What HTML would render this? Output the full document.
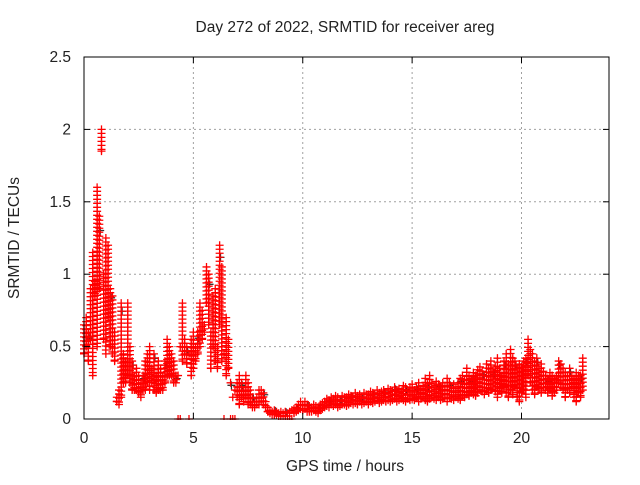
<!DOCTYPE html>
<html><head><meta charset="utf-8"><style>
body{margin:0;background:#fff}
svg text{font-family:"Liberation Sans",sans-serif;font-size:15.5px;fill:#222}
</style></head><body>
<svg id="chart" width="640" height="480" viewBox="0 0 640 480">
<rect width="640" height="480" fill="#fff"/>
<text x="345" y="32" text-anchor="middle">Day 272 of 2022, SRMTID for receiver areg</text>
<text x="345" y="471" text-anchor="middle">GPS time / hours</text>
<text transform="translate(19,238) rotate(-90)" text-anchor="middle">SRMTID / TECUs</text>
<g id="grid"></g><g id="marks"></g><g id="axes"></g>
</svg>
<script>
const xTicks=[0,5,10,15,20];
const yTicks=[0,0.5,1,1.5,2,2.5];
const yTickLabels=["0","0.5","1","1.5","2","2.5"];
const sampleStep=0.1;
const srmtidHigh=[0.45,0.7,0.6,0.9,1.15,0.95,1.6,1.4,2.0,1.0,
1.25,1.2,0.9,0.85,0.6,0.15,0.2,0.8,0.45,0.4,
0.8,0.5,0.4,0.3,0.35,0.3,0.25,0.3,0.4,0.45,
0.5,0.35,0.45,0.3,0.4,0.35,0.3,0.4,0.55,0.5,
0.45,0.4,0.3,0.3,0.5,0.8,0.55,0.5,0.45,0.55,
0.6,0.5,0.6,0.8,0.75,0.65,1.05,1.0,0.6,0.85,
0.9,0.5,1.2,1.05,0.45,0.7,0.55,0.25,0.15,0.2,
0.25,0.3,0.25,0.2,0.3,0.25,0.2,0.15,0.12,0.15,
0.2,0.2,0.18,0.12,0.08,0.06,0.05,0.06,0.05,0.04,
0.05,0.04,0.05,0.04,0.05,0.06,0.07,0.08,0.1,0.12,
0.1,0.12,0.1,0.09,0.08,0.1,0.09,0.08,0.1,0.11,
0.12,0.14,0.13,0.15,0.14,0.16,0.15,0.13,0.16,0.15,
0.15,0.17,0.16,0.15,0.18,0.16,0.17,0.15,0.18,0.17,
0.17,0.19,0.18,0.17,0.2,0.18,0.19,0.2,0.18,0.21,
0.2,0.19,0.22,0.2,0.21,0.19,0.23,0.22,0.2,0.22,
0.24,0.2,0.22,0.25,0.21,0.23,0.28,0.24,0.3,0.25,
0.22,0.26,0.24,0.22,0.25,0.23,0.28,0.25,0.22,0.24,
0.21,0.25,0.28,0.3,0.27,0.35,0.3,0.28,0.32,0.3,
0.34,0.36,0.33,0.3,0.38,0.35,0.4,0.33,0.36,0.42,
0.35,0.3,0.4,0.45,0.38,0.48,0.42,0.4,0.35,0.38,
0.36,0.4,0.42,0.55,0.48,0.45,0.4,0.42,0.35,0.38,
0.33,0.3,0.28,0.32,0.3,0.28,0.3,0.4,0.38,0.35,
0.32,0.3,0.35,0.3,0.28,0.32,0.3,0.3,0.42];
const srmtidLow=[0.65,0.5,0.4,0.55,0.3,0.85,0.5,0.9,1.85,0.55,
0.45,0.7,0.5,0.45,0.4,0.12,0.1,0.15,0.25,0.25,
0.3,0.25,0.2,0.2,0.2,0.18,0.15,0.2,0.2,0.25,
0.2,0.25,0.2,0.18,0.2,0.2,0.2,0.25,0.3,0.3,
0.3,0.25,0.25,0.0,0.0,0.4,0.45,0.38,0.0,0.3,
0.35,0.4,0.45,0.5,0.55,0.6,0.8,0.65,0.35,0.5,
0.4,0.35,0.65,0.4,0.0,0.3,0.35,0.0,0.0,0.0,
0.15,0.1,0.15,0.12,0.15,0.1,0.1,0.08,0.08,0.1,
0.1,0.12,0.1,0.08,0.05,0.04,0.03,0.03,0.03,0.02,
0.02,0.02,0.02,0.02,0.0,0.0,0.04,0.05,0.06,0.07,
0.06,0.07,0.05,0.05,0.05,0.06,0.05,0.04,0.06,0.07,
0.08,0.09,0.08,0.1,0.09,0.1,0.08,0.09,0.1,0.1,
0.09,0.1,0.11,0.1,0.11,0.1,0.12,0.1,0.11,0.12,
0.1,0.12,0.11,0.12,0.13,0.11,0.12,0.13,0.12,0.13,
0.12,0.13,0.14,0.12,0.13,0.14,0.13,0.12,0.14,0.13,
0.14,0.13,0.15,0.12,0.14,0.15,0.13,0.12,0.14,0.15,
0.14,0.13,0.15,0.13,0.14,0.15,0.12,0.15,0.14,0.13,
0.15,0.14,0.13,0.16,0.15,0.17,0.16,0.18,0.17,0.16,
0.18,0.2,0.19,0.17,0.2,0.18,0.2,0.22,0.19,0.15,
0.2,0.18,0.22,0.18,0.15,0.2,0.17,0.22,0.15,0.12,
0.18,0.2,0.15,0.3,0.25,0.2,0.17,0.22,0.2,0.18,
0.22,0.2,0.18,0.2,0.16,0.18,0.2,0.25,0.22,0.2,
0.15,0.2,0.18,0.22,0.15,0.12,0.18,0.15,0.2];

const L=84,R=609,T=57,B=419,XMAX=24,YMAX=2.5;
const xs=v=>L+(v/XMAX)*(R-L);
const ys=v=>B-(v/YMAX)*(B-T);
const NS="http://www.w3.org/2000/svg";
function mk(tag,attrs,parent){const e=document.createElementNS(NS,tag);for(const k in attrs)e.setAttribute(k,attrs[k]);parent.appendChild(e);return e;}
const grid=document.getElementById('grid'),marks=document.getElementById('marks'),axes=document.getElementById('axes');
xTicks.forEach((t,i)=>{
  const x=xs(t);
  if(i>0){const g=mk('line',{x1:x,x2:x,y1:T,y2:B,stroke:'#a0a0a0','stroke-dasharray':'2,3'},grid);
  
  }
  mk('line',{x1:x,x2:x,y1:B,y2:B-6,stroke:'#000'},axes);
  mk('line',{x1:x,x2:x,y1:T,y2:T+6,stroke:'#000'},axes);
  const tx=mk('text',{x:x,y:B+24,'text-anchor':'middle'},axes);tx.textContent=String(t);
  
  
});
yTicks.forEach((t,i)=>{
  const y=ys(t);
  if(i>0&&i<yTicks.length-1){const g=mk('line',{x1:L,x2:R,y1:y,y2:y,stroke:'#a0a0a0','stroke-dasharray':'2,3'},grid);
  
  }
  mk('line',{x1:L,x2:L+6,y1:y,y2:y,stroke:'#000'},axes);
  mk('line',{x1:R,x2:R-6,y1:y,y2:y,stroke:'#000'},axes);
  const tx=mk('text',{x:L-13,y:y+5,'text-anchor':'end'},axes);tx.textContent=yTickLabels[i];
  
  
});
const frame=mk('rect',{x:L,y:T,width:R-L,height:B-T,fill:'none',stroke:'#000'},axes);


function crossPx(x,y,color){
  const p=mk('path',{d:`M${x-4},${y}h8M${x},${y-4}v8`,stroke:color,'stroke-width':1.3},marks);
  
  
}
srmtidHigh.forEach((v,i)=>{if(i%5===2)crossPx(xs((i+0.4)*sampleStep),ys(v*0.93),'#333');});
srmtidHigh.forEach((hi,i)=>{
  const lo=srmtidLow[i];
  const x=xs(i*sampleStep);
  if(lo===0){crossPx(x,ys(0),'#f00');crossPx(x,ys(hi),'#f00');return;}
  const y1=ys(Math.max(hi,lo)),y2=ys(Math.min(hi,lo));
  for(let y=y1;y<y2;y+=4)crossPx(x,y,'#f00');
  crossPx(x,y2,'#f00');
});
const clip=mk('rect',{x:0,y:B+1,width:640,height:6,fill:'#fff'},marks);
</script>
</body></html>
